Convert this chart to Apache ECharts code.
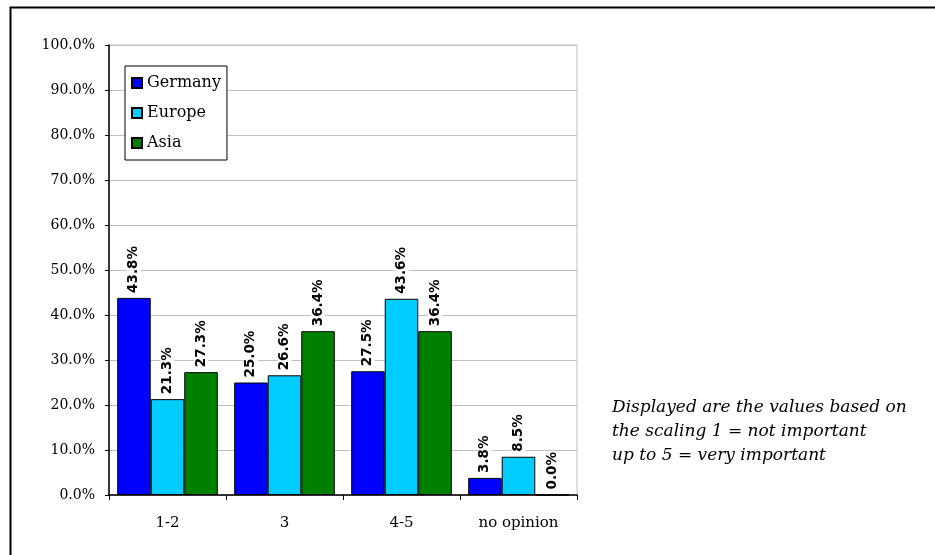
<!DOCTYPE html>
<html>
<head>
<meta charset="utf-8">
<script src="https://cdn.jsdelivr.net/npm/echarts@6/dist/echarts.min.js"></script>
<style>
  html, body { margin: 0; padding: 0; background: #fff; }
  #chart { width: 935px; height: 555px; }
</style>
</head>
<body>
<div id="chart"></div>
<script>
// Share of answers per rating band (percent)
const categories = ['1-2', '3', '4-5', 'no opinion'];
const germany = [43.8, 25.0, 27.5, 3.8];
const europe = [21.3, 26.6, 43.6, 8.5];
const asia = [27.3, 36.4, 36.4, 0.0];
const noteLines = [
  'Displayed are the values based on',
  'the scaling 1 = not important',
  'up to 5 = very important'
];

const serif = '"DejaVu Serif", "Liberation Serif", serif';

function barSeries(name, data, color) {
  return {
    name: name,
    type: 'bar',
    data: data,
    barGap: '0%',
    barCategoryGap: '14%',
    itemStyle: { color: color, borderColor: '#000', borderWidth: 1 },
    label: {
      show: true,
      position: 'top',
      rotate: 90,
      align: 'left',
      verticalAlign: 'middle',
      distance: 5,
      formatter: p => p.value.toFixed(1) + '%',
      fontFamily: '"DejaVu Sans", sans-serif',
      fontWeight: 'bold',
      fontSize: 13.5,
      color: '#000',
      backgroundColor: '#fff'
    }
  };
}

const chart = echarts.init(document.getElementById('chart'), null, { renderer: 'canvas' });

chart.setOption({
  animation: false,
  backgroundColor: '#fff',
  grid: {
    left: 109, right: 358, top: 45, bottom: 60,
    show: true, borderColor: '#c0c0c0', borderWidth: 1
  },
  legend: {
    orient: 'vertical',
    left: 125,
    top: 66,
    padding: [9, 6, 9, 6],
    itemGap: 14,
    itemWidth: 10,
    itemHeight: 10,
    icon: 'rect',
    borderColor: '#000',
    borderWidth: 1,
    backgroundColor: '#fff',
    textStyle: { fontFamily: serif, fontSize: 16, color: '#000' },
    data: ['Germany', 'Europe', 'Asia']
  },
  xAxis: {
    type: 'category',
    data: categories,
    axisLine: { lineStyle: { color: '#000', width: 1.5 } },
    axisTick: { show: true, length: 5, lineStyle: { color: '#000' } },
    axisLabel: { fontFamily: serif, fontSize: 15, color: '#000', margin: 21 }
  },
  yAxis: {
    type: 'value',
    min: 0,
    max: 100,
    interval: 10,
    axisLine: { show: true, lineStyle: { color: '#000', width: 1.5 } },
    axisTick: { show: true, length: 4, lineStyle: { color: '#000' } },
    axisLabel: {
      fontFamily: serif, fontSize: 14, color: '#000', margin: 14,
      formatter: v => v.toFixed(1) + '%'
    },
    splitLine: { show: true, lineStyle: { color: '#c0c0c0', width: 1 } }
  },
  series: [
    barSeries('Germany', germany, '#0000ff'),
    barSeries('Europe', europe, '#00ccff'),
    barSeries('Asia', asia, '#008000')
  ],
  graphic: [
    {
      type: 'rect',
      shape: { x: 10.5, y: 7.5, width: 1000, height: 1000 },
      style: { fill: 'none', stroke: '#000', lineWidth: 2 },
      silent: true,
      z: 100
    },
    {
      type: 'text',
      left: 612,
      top: 396,
      style: {
        text: noteLines.join('\n'),
        fontFamily: serif,
        fontStyle: 'italic',
        fontSize: 17,
        lineHeight: 24,
        fill: '#000'
      }
    }
  ]
});
</script>
</body>
</html>
